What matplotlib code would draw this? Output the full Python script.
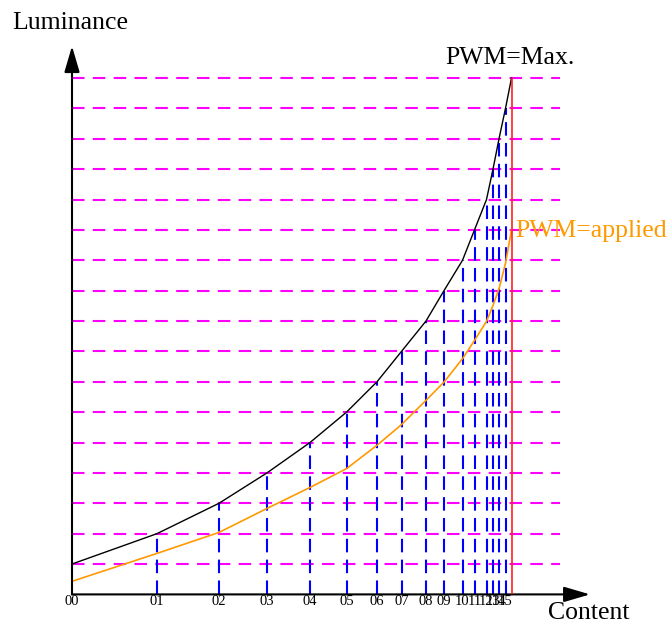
import matplotlib.pyplot as plt

plt.rcParams['font.family'] = ['Liberation Serif', 'DejaVu Serif']

# content codes (tick positions) and luminance levels
content = [0, 85, 147, 195, 238, 274.5, 305, 329.5, 354, 372, 390.5,
           402.5, 414.5, 421, 427, 433.5, 439.5]
tick_labels = ['00', '01', '02', '03', '04', '05', '06', '07', '08', '09',
               '10', '11', '12', '13', '14', '15']
lum_max = [1, 2, 3, 4, 5, 6, 7, 8, 9, 10, 11, 12, 13, 14, 15, 16, 17]
lum_applied = [0.43, 1.35, 2.04, 2.83, 3.52, 4.14, 4.91, 5.59, 6.39, 6.99,
               7.76, 8.36, 8.99, 9.51, 10.06, 10.9, 12.0]

fig = plt.figure(figsize=(6.68, 6.23), dpi=100)
ax = fig.add_axes([72 / 668, 28.6 / 623, 528 / 668, 18.3 * 30.375 / 623])
ax.set_xlim(0, 528)
ax.set_ylim(0, 18.3)
for s in ax.spines.values():
    s.set_visible(False)
ax.set_yticks([])

# grid-like guides
ax.hlines(lum_max, 0, 488, colors='#ff00ff', lw=1.5,
          linestyles=(0, (6, 4)), zorder=1)
ax.vlines(content[1:16], 0, lum_max[1:16], colors='#0000ff', lw=1.5,
          linestyles=(0, (6.5, 3.5)), zorder=2)
ax.vlines(content[16], 0, lum_max[16], colors='#ff2020', lw=1.2, zorder=4)

# curves
ax.plot(content, lum_max, color='black', lw=1.0, zorder=3)
ax.plot(content, lum_applied, color='#ff9900', lw=1.2, zorder=3)

# axes with arrows
arrow = dict(arrowstyle='-|>,head_length=1.6,head_width=0.47',
             mutation_scale=10, lw=1.5, color='black', shrinkA=0, shrinkB=0)
ax.annotate('', xy=(518, 0), xytext=(0, 0), arrowprops=arrow,
            annotation_clip=False)
ax.annotate('', xy=(0, 18.05), xytext=(0, 0), arrowprops=arrow,
            annotation_clip=False)

ax.set_xticks(content[:16])
ax.set_xticklabels(tick_labels, fontsize=10.5)
ax.tick_params(axis='x', length=0, pad=0.3)

ax.text(-2, 18.8, 'Luminance', fontsize=18.5, ha='center', va='center')
ax.text(517, -0.6, 'Content', fontsize=18.5, ha='center', va='center')
ax.text(438, 17.65, 'PWM=Max.', fontsize=18.5, ha='center', va='center')
ax.text(443, 11.97, 'PWM=applied', fontsize=18.5, ha='left', va='center',
        color='#ff9900')

fig.savefig('out.png', dpi=100)
